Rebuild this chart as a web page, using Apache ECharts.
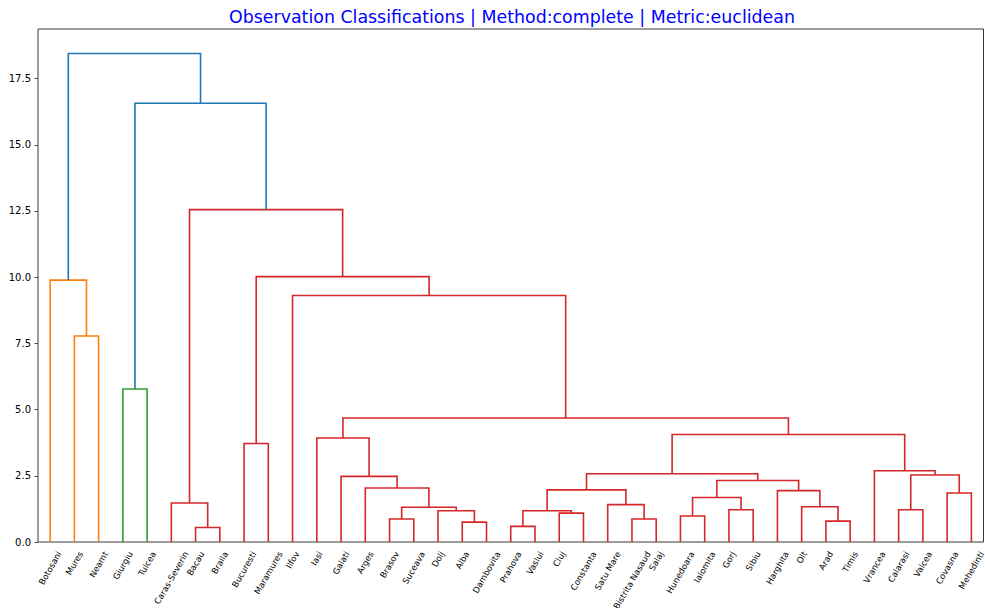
<!DOCTYPE html>
<html><head><meta charset="utf-8">
<script src="https://cdn.jsdelivr.net/npm/echarts@6/dist/echarts.min.js"></script>
<style>html,body{margin:0;padding:0;background:#fff}#c{width:985px;height:608px}</style>
</head><body><div id="c"></div>
<script>
// ---- data ----
const leaves = ['Botosani','Mures','Neamt','Giurgiu','Tulcea','Caras-Severin','Bacau','Braila','Bucuresti','Maramures','Ilfov','Iasi','Galati','Arges','Brasov','Suceava','Dolj','Alba','Dambovita','Prahova','Vaslui','Cluj','Constanta','Satu Mare','Bistrita Nasaud','Salaj','Hunedoara','Ialomita','Gorj','Sibiu','Harghita','Olt','Arad','Timis','Vrancea','Calarasi','Valcea','Covasna','Mehedinti'];
// children: a string is a leaf name, a number is the index of an earlier merge
const mergeLeft  = ['Bacau','Caras-Severin','Alba','Brasov','Dolj',3,'Arges','Galati','Iasi','Prahova','Cluj',9,'Bistrita Nasaud','Satu Mare',11,'Hunedoara','Gorj',15,'Arad','Olt','Harghita',17,14,'Calarasi','Covasna',23,'Vrancea',22,8,'Ilfov','Bucuresti',30,1,'Mures','Botosani','Giurgiu',35,34];
const mergeRight = ['Braila',0,'Dambovita','Suceava',2,4,5,6,7,'Vaslui','Constanta',10,'Salaj',12,13,'Ialomita','Sibiu',16,'Timis',18,19,20,21,'Valcea','Mehedinti',24,25,26,27,28,'Maramures',29,31,'Neamt',33,'Tulcea',32,36];
const mergeHeight = [0.55,1.47,0.75,0.87,1.18,1.31,2.04,2.48,3.93,0.59,1.09,1.18,0.87,1.41,1.97,0.98,1.22,1.68,0.79,1.33,1.94,2.32,2.58,1.22,1.85,2.53,2.69,4.06,4.68,9.31,3.72,10.02,12.55,7.78,9.89,5.78,16.57,18.45];
const yTicks = [0,2.5,5,7.5,10,12.5,15,17.5];
const titleText = 'Observation Classifications | Method:complete | Metric:euclidean';
const clusterPalette = ['#ff7f0e','#2ca02c','#d62728'];
const aboveColor = '#1f77b4';

// ---- derived structure ----
const n = leaves.length;
const m = mergeHeight.length;
function nodeId(r){ return typeof r === 'number' ? n + r : leaves.indexOf(r); }
const nodeX = [], nodeH = [];
leaves.forEach((_, i) => { nodeX[i] = 5 + 10 * i; nodeH[i] = 0; });
for (let k = 0; k < m; k++) {
  const a = nodeId(mergeLeft[k]), b = nodeId(mergeRight[k]);
  nodeX[n + k] = (nodeX[a] + nodeX[b]) / 2;
  nodeH[n + k] = mergeHeight[k];
}
const maxH = Math.max.apply(null, mergeHeight);
const threshold = 0.7 * maxH;
const linkColor = [];
let pal = 0;
function paint(id, color) {
  if (id < n) return;
  const k = id - n;
  let c = color;
  if (c == null) {
    if (mergeHeight[k] >= threshold) { linkColor[k] = aboveColor; }
    else { c = clusterPalette[pal++ % clusterPalette.length]; linkColor[k] = c; }
  } else linkColor[k] = c;
  paint(nodeId(mergeLeft[k]), c);
  paint(nodeId(mergeRight[k]), c);
}
paint(n + m - 1, null);

const links = [];
for (let k = 0; k < m; k++) {
  const a = nodeId(mergeLeft[k]), b = nodeId(mergeRight[k]);
  links.push({
    coords: [[nodeX[a], nodeH[a]], [nodeX[a], mergeHeight[k]], [nodeX[b], mergeHeight[k]], [nodeX[b], nodeH[b]]],
    lineStyle: { color: linkColor[k] }
  });
}

// text measurement for matplotlib-like centred rotated labels
const LABEL_FS = 8.5;
const FONT = '"DejaVu Sans", sans-serif';
const ctx = document.createElement('canvas').getContext('2d');
ctx.font = LABEL_FS + 'px ' + FONT;
const ANG = Math.PI / 3;

const chart = echarts.init(document.getElementById('c'), null, { renderer: 'svg' });
chart.setOption({
  animation: false,
  backgroundColor: '#fff',
  title: {
    text: titleText, left: 507, top: 3, textAlign: 'center',
    textStyle: { color: '#0000ff', fontSize: 17.4, fontWeight: 'normal', fontFamily: FONT }
  },
  grid: { left: 38, right: 1.5, top: 29, bottom: 66, show: true, borderColor: '#222', borderWidth: 0.9, backgroundColor: 'transparent' },
  xAxis: {
    type: 'value', min: 0, max: 10 * n,
    axisLine: { show: false }, axisTick: { show: false }, axisLabel: { show: false }, splitLine: { show: false }
  },
  yAxis: {
    type: 'value', min: 0, max: maxH * 1.05, interval: 2.5,
    axisLine: { show: false },
    axisTick: { show: true, length: 3.5, lineStyle: { color: '#222', width: 0.8 }, customValues: yTicks },
    axisLabel: { color: '#000', fontSize: 10, fontFamily: FONT, margin: 7, customValues: yTicks,
      formatter: v => Number(v).toFixed(1) },
    splitLine: { show: false }
  },
  series: [
    {
      type: 'lines', coordinateSystem: 'cartesian2d', polyline: true,
      data: links, lineStyle: { width: 1.6, opacity: 1 }, silent: true, z: 3
    },
    {
      type: 'custom', coordinateSystem: 'cartesian2d',
      data: leaves.map((name, i) => [nodeX[i], 0, i]),
      renderItem: function (params, api) {
        const i = api.value(2);
        const name = leaves[i];
        const p = api.coord([api.value(0), 0]);
        const L = ctx.measureText(name).width;
        return {
          type: 'text',
          x: p[0] + L * Math.cos(ANG) / 2,
          y: p[1] + 7 + LABEL_FS / 4 + 1,
          rotation: ANG,
          style: { text: name, fill: '#000', font: LABEL_FS + 'px ' + FONT, align: 'right', verticalAlign: 'middle' }
        };
      },
      silent: true, z: 4
    }
  ]
});
</script>
</body></html>
